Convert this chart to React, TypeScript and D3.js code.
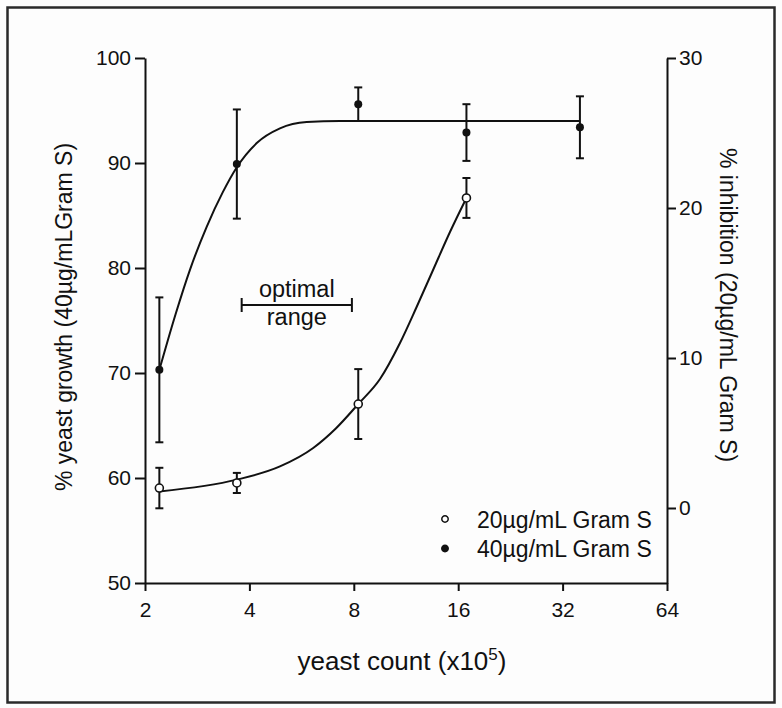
import React, { useRef, useEffect } from 'react';
import * as d3 from 'd3';

const xTicks = [2, 4, 8, 16, 32, 64];
const leftTicks = [50, 60, 70, 80, 90, 100];
const rightTicks = [0, 10, 20, 30];

// 40 ug/mL Gram S -> % yeast growth (left axis)
const count40 = [2.2, 3.68, 8.24, 16.9, 35.9];
const growth40 = [70.3, 89.9, 95.6, 92.9, 93.4];
const err40 = [6.9, 5.2, 1.6, 2.7, 2.95];
// fitted curve
const fit40X = [2.2, 2.45, 2.7, 3.01, 3.35, 3.68, 4.2, 4.9, 5.85, 7.3, 12, 35.9];
const fit40Y = [70.3, 75.6, 79.9, 83.9, 87.2, 89.6, 91.9, 93.3, 93.9, 94.0, 94.0, 94.0];

// 20 ug/mL Gram S -> % inhibition (right axis)
const count20 = [2.2, 3.68, 8.24, 16.9];
const inhib20 = [1.33, 1.67, 6.93, 20.67];
const err20 = [1.35, 0.67, 2.33, 1.33];
const fit20X = [2.2, 3.68, 4.9, 6.11, 7.1, 8.24, 9.52, 10.87, 12.14, 13.56, 15.15, 16.9];
const fit20Y = [1.1, 1.89, 2.77, 4.0, 5.3, 6.93, 8.6, 11.0, 13.4, 15.9, 18.4, 20.67];

const optimalRange = [3.8, 7.9];

const legendLabels = ['20\u00b5g/mL Gram S', '40\u00b5g/mL Gram S'];

const W = 782;
const H = 708;
const FONT = '"Liberation Sans", Arial, Helvetica, sans-serif';

const App: React.FC = () => {
  const svgRef = useRef<SVGSVGElement>(null);

  useEffect(() => {
    if (!svgRef.current) return;
    const svg = d3.select(svgRef.current);
    svg.selectAll('*').remove();

    const left = 145, right = 667, top = 58, bottom = 583;

    const x = d3.scaleLog().base(2).domain([2, 64]).range([left, right]);
    const yL = d3.scaleLinear().domain([50, 100]).range([bottom, top]);
    const yR = d3.scaleLinear().domain([-5, 30]).range([bottom, top]);

    svg.append('rect')
      .attr('width', W).attr('height', H).attr('fill', '#fdfdfd');

    // outer frame
    svg.append('rect')
      .attr('x', 7.5).attr('y', 7.5)
      .attr('width', 767).attr('height', 695)
      .attr('fill', 'none')
      .attr('stroke', '#2a2a2a')
      .attr('stroke-width', 2.5);

    const styleAxis = (g: any) => {
      g.select('.domain').attr('stroke', '#111').attr('stroke-width', 2);
      g.selectAll('.tick line').attr('stroke', '#111').attr('stroke-width', 2);
      g.selectAll('.tick text')
        .attr('fill', '#111')
        .style('font-family', FONT)
        .style('font-size', '21px');
    };

    svg.append('g')
      .attr('transform', `translate(0,${bottom})`)
      .call(d3.axisBottom(x).tickValues(xTicks).tickFormat(d3.format('d') as any)
        .tickSize(8).tickSizeOuter(0).tickPadding(11))
      .call(styleAxis);

    svg.append('g')
      .attr('transform', `translate(${left},0)`)
      .call(d3.axisLeft(yL).tickValues(leftTicks).tickFormat(d3.format('d') as any)
        .tickSize(10).tickSizeOuter(0).tickPadding(4))
      .call(styleAxis);

    svg.append('g')
      .attr('transform', `translate(${right},0)`)
      .call(d3.axisRight(yR).tickValues(rightTicks).tickFormat(d3.format('d') as any)
        .tickSize(9).tickSizeOuter(0).tickPadding(3))
      .call(styleAxis);

    // axis titles
    const xTitle = svg.append('text')
      .attr('x', 402).attr('y', 670)
      .attr('text-anchor', 'middle')
      .style('font-family', FONT).style('font-size', '26px')
      .attr('fill', '#111');
    xTitle.append('tspan').text('yeast count (x10');
    xTitle.append('tspan').attr('dy', -10).style('font-size', '17px').text('5');
    xTitle.append('tspan').attr('dy', 10).text(')');

    svg.append('text')
      .attr('transform', 'translate(72,317) rotate(-90)')
      .attr('text-anchor', 'middle')
      .style('font-family', FONT).style('font-size', '23px')
      .attr('fill', '#111')
      .text('% yeast growth (40\u00b5g/mLGram S)');

    svg.append('text')
      .attr('transform', 'translate(720,305) rotate(90)')
      .attr('text-anchor', 'middle')
      .style('font-family', FONT).style('font-size', '23px')
      .attr('fill', '#111')
      .text('% inhibition (20\u00b5g/mL Gram S)');

    // fitted curves
    const fit40 = fit40X.map((v, i) => [x(v), yL(fit40Y[i])] as [number, number]);
    const fit20 = fit20X.map((v, i) => [x(v), yR(fit20Y[i])] as [number, number]);
    const line = d3.line().curve(d3.curveMonotoneX);

    svg.append('path').attr('d', line(fit40))
      .attr('fill', 'none').attr('stroke', '#111').attr('stroke-width', 2);
    svg.append('path').attr('d', line(fit20))
      .attr('fill', 'none').attr('stroke', '#111').attr('stroke-width', 2);

    // error bars
    const errBar = (cx: number, y1: number, y2: number) => {
      const g = svg.append('g').attr('stroke', '#111').attr('stroke-width', 2);
      g.append('line').attr('x1', cx).attr('x2', cx).attr('y1', y1).attr('y2', y2);
      g.append('line').attr('x1', cx - 4).attr('x2', cx + 4).attr('y1', y1).attr('y2', y1);
      g.append('line').attr('x1', cx - 4).attr('x2', cx + 4).attr('y1', y2).attr('y2', y2);
    };
    count40.forEach((c, i) => errBar(x(c), yL(growth40[i] + err40[i]), yL(growth40[i] - err40[i])));
    count20.forEach((c, i) => errBar(x(c), yR(inhib20[i] + err20[i]), yR(inhib20[i] - err20[i])));

    // points
    svg.selectAll('.p40').data(count40).enter().append('circle')
      .attr('cx', d => x(d)).attr('cy', (d, i) => yL(growth40[i]))
      .attr('r', 4).attr('fill', '#111');
    svg.selectAll('.p20').data(count20).enter().append('circle')
      .attr('cx', d => x(d)).attr('cy', (d, i) => yR(inhib20[i]))
      .attr('r', 4).attr('fill', '#fff').attr('stroke', '#111').attr('stroke-width', 1.6);

    // optimal range bracket
    const ox1 = x(optimalRange[0]), ox2 = x(optimalRange[1]);
    const oy = 305;
    const br = svg.append('g').attr('stroke', '#111').attr('stroke-width', 2);
    br.append('line').attr('x1', ox1).attr('x2', ox2).attr('y1', oy).attr('y2', oy);
    br.append('line').attr('x1', ox1).attr('x2', ox1).attr('y1', oy - 7).attr('y2', oy + 7);
    br.append('line').attr('x1', ox2).attr('x2', ox2).attr('y1', oy - 7).attr('y2', oy + 7);
    svg.append('text')
      .attr('x', (ox1 + ox2) / 2).attr('y', 297)
      .attr('text-anchor', 'middle')
      .style('font-family', FONT).style('font-size', '23.5px').attr('fill', '#111')
      .text('optimal');
    svg.append('text')
      .attr('x', (ox1 + ox2) / 2).attr('y', 325)
      .attr('text-anchor', 'middle')
      .style('font-family', FONT).style('font-size', '23.5px').attr('fill', '#111')
      .text('range');

    // legend
    const lg = svg.append('g').attr('transform', 'translate(445,519)');
    legendLabels.forEach((lab, i) => {
      const row = lg.append('g').attr('transform', `translate(0,${i * 29.5})`);
      row.append('circle')
        .attr('r', 3.2)
        .attr('fill', i === 0 ? '#fff' : '#111')
        .attr('stroke', '#111').attr('stroke-width', 1.5);
      row.append('text')
        .attr('x', 32).attr('y', 8.5)
        .style('font-family', FONT).style('font-size', '23px').attr('fill', '#111')
        .text(lab);
    });
  }, []);

  return (
    <div style={{ position: 'absolute', left: 0, top: 0 }}>
      <svg ref={svgRef} width={W} height={H} style={{ display: 'block' }} />
    </div>
  );
};

export default App;
